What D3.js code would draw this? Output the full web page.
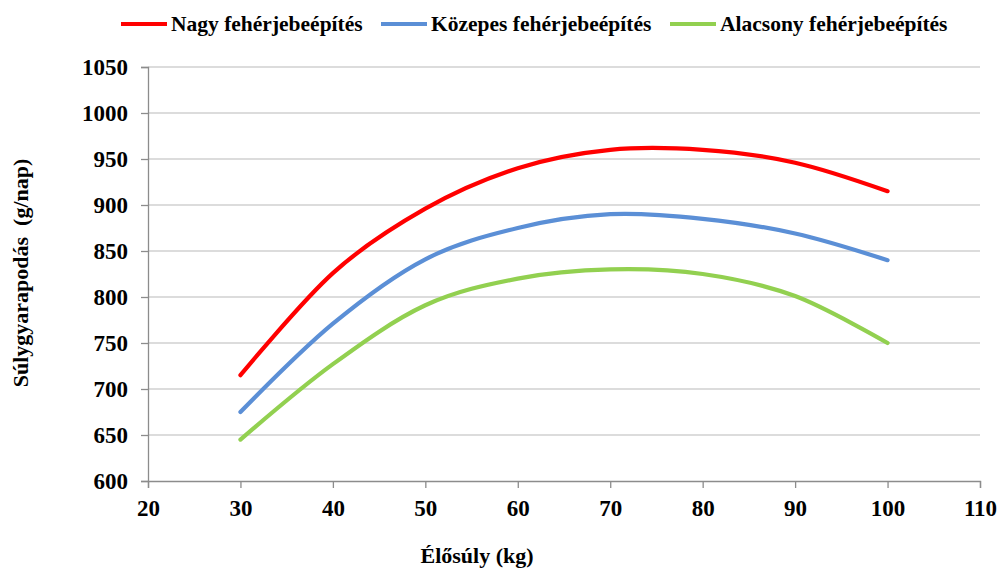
<!DOCTYPE html>
<html>
<head>
<meta charset="utf-8">
<script src="https://cdn.jsdelivr.net/npm/d3@7"></script>
</head>
<body style="margin:0">
<svg id="chart" width="1001" height="569"></svg>
<script>
// Live weight (kg) at which daily gain was evaluated
const liveWeight = [30, 40, 50, 60, 70, 80, 90, 100];

// Daily gain (g/day) by protein deposition capacity
const highProtein = [715, 826, 896, 940, 960, 960, 946, 915];
const mediumProtein = [675, 771, 841, 875, 890, 885, 869, 840];
const lowProtein = [645, 727, 791, 820, 830, 825, 801, 750];

const seriesNames = ["Nagy fehérjebeépítés", "Közepes fehérjebeépítés", "Alacsony fehérjebeépítés"];
const seriesColors = ["#ff0000", "#5b8fd6", "#92d050"];

const xTicks = [20, 30, 40, 50, 60, 70, 80, 90, 100, 110];
const yTicks = [600, 650, 700, 750, 800, 850, 900, 950, 1000, 1050];

const face = "Liberation Serif";

const svg = d3.select("#chart");
const plotLeft = 148, plotRight = 980, plotTop = 67, plotBottom = 481;

const x = d3.scaleLinear().domain([20, 110]).range([plotLeft, plotRight]);
const y = d3.scaleLinear().domain([600, 1050]).range([plotBottom, plotTop]);

// bold serif lettering used by every label
function letter(sel, size) {
  sel.attr("font-family", () => `'${face}'`)
    .attr("font-weight", "bold")
    .attr("font-size", size)
    .attr("fill", "#000");
}

// horizontal gridlines
svg.append("g")
  .selectAll("line")
  .data(yTicks.filter(v => v > 600))
  .join("line")
  .attr("x1", plotLeft).attr("x2", plotRight)
  .attr("y1", d => y(d)).attr("y2", d => y(d))
  .attr("stroke", "#d0d0d0").attr("stroke-width", 1.3);

function styleAxis(g) {
  g.attr("font-family", null);
  g.select(".domain").attr("stroke", "#8c8c8c").attr("stroke-width", 1.3);
  g.selectAll(".tick line").attr("stroke", "#8c8c8c").attr("stroke-width", 1.3);
  g.selectAll(".tick text").call(letter, 23);
}

// y axis
svg.append("g")
  .attr("transform", `translate(${plotLeft},0)`)
  .call(d3.axisLeft(y).tickValues(yTicks).tickFormat(d3.format("d")).tickSize(7).tickPadding(13))
  .call(styleAxis);

// x axis
svg.append("g")
  .attr("transform", `translate(0,${plotBottom})`)
  .call(d3.axisBottom(x).tickValues(xTicks).tickFormat(d3.format("d")).tickSize(7).tickPadding(12))
  .call(styleAxis);

// series lines
const series = [highProtein, mediumProtein, lowProtein];
const line = d3.line()
  .x((d, i) => x(liveWeight[i]))
  .y(d => y(d))
  .curve(d3.curveCardinal.tension(0));

svg.append("g")
  .selectAll("path")
  .data(series)
  .join("path")
  .attr("d", d => line(d))
  .attr("fill", "none")
  .attr("stroke", (d, i) => seriesColors[i])
  .attr("stroke-width", 4.2)
  .attr("stroke-linecap", "round");

// legend
const legendX = [121, 381, 670];
const legend = svg.append("g")
  .selectAll("g")
  .data(seriesNames)
  .join("g")
  .attr("transform", (d, i) => `translate(${legendX[i]},24)`);
legend.append("line")
  .attr("x1", 0).attr("x2", 46)
  .attr("stroke", (d, i) => seriesColors[i])
  .attr("stroke-width", 4.2);
legend.append("text")
  .attr("x", 50).attr("dy", "0.33em")
  .call(letter, 21.5)
  .text(d => d);

// axis titles
svg.append("text")
  .attr("x", 477).attr("y", 563)
  .attr("text-anchor", "middle")
  .call(letter, 22)
  .text("Élősúly (kg)");

svg.append("text")
  .attr("transform", "translate(28,273) rotate(-90)")
  .attr("text-anchor", "middle")
  .call(letter, 22)
  .text("Súlygyarapodás\u00a0\u00a0(g/nap)");
</script>
</body>
</html>
